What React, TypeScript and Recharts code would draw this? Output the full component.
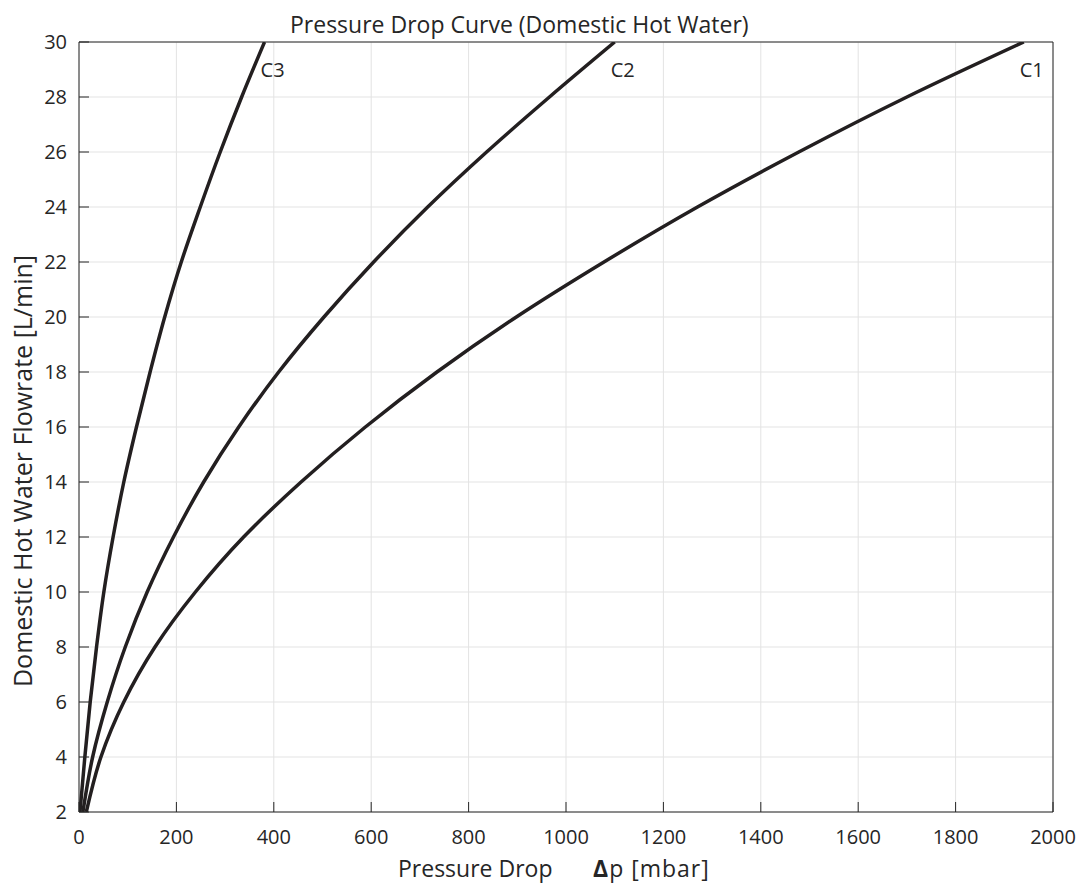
import { CartesianGrid, Line, LineChart, XAxis, YAxis } from "recharts";

// axis ticks
const dropTicks = [0, 200, 400, 600, 800, 1000, 1200, 1400, 1600, 1800, 2000];
const flowTicks = [2, 4, 6, 8, 10, 12, 14, 16, 18, 20, 22, 24, 26, 28, 30];

// flow levels [L/min] shared by all three curves
const flowLevels = [2, 4, 6, 8, 10, 12, 14, 16, 18, 20, 22, 24, 26, 28, 30];

// pressure drop [mbar] at each flow level
const c1Drop = [15, 45, 92, 156, 239, 338, 456, 588, 735, 898, 1078, 1270, 1478, 1700, 1940];
const c2Drop = [8, 28, 58, 95, 140, 194, 256, 328, 410, 503, 605, 716, 837, 966, 1100];
const c3Drop = [2, 12, 23, 36, 51, 70, 92, 118, 146, 176, 210, 249, 290, 334, 381];

const toPoints = (drop: number[]) => drop.map((dp, i) => ({ dp, flow: flowLevels[i] }));

const c1 = toPoints(c1Drop);
const c2 = toPoints(c2Drop);
const c3 = toPoints(c3Drop);

const INK = "#262626";
const CURVE = "#231f20";
const FONT = "'Open Sans', sans-serif";

const tickStyle = { fill: INK, fontSize: 20, fontFamily: FONT };

// name tag just below the upper end of each curve
const endLabel = (name: string, count: number) => (props: any) => {
  if (props.index !== count - 1) return null;
  return (
    <text x={props.x - 4} y={props.y + 35} fill={INK} fontSize={20} fontFamily={FONT} textAnchor="start">
      {name}
    </text>
  );
};

export default function App() {
  return (
    <div style={{ position: "absolute", left: 0, top: 0, width: 1081, height: 888, background: "#fff", fontFamily: FONT, color: INK }}>
      <div style={{ position: "absolute", left: 290, top: 10, fontSize: 23, lineHeight: "28px", whiteSpace: "nowrap" }}>
        Pressure Drop Curve (Domestic Hot Water)
      </div>

      <LineChart width={1081} height={888} margin={{ top: 41, right: 27, bottom: 46, left: 19 }}>
        <CartesianGrid stroke="#e3e3e3" strokeWidth={1} />
        <XAxis
          type="number"
          dataKey="dp"
          domain={[0, 2000]}
          ticks={dropTicks}
          allowDataOverflow
          height={30}
          tick={tickStyle}
          tickSize={-10}
          tickMargin={28}
          axisLine={{ stroke: INK }}
          tickLine={{ stroke: INK }}
        />
        <XAxis
          xAxisId="top"
          orientation="top"
          type="number"
          domain={[0, 2000]}
          ticks={dropTicks}
          height={1}
          tick={false}
          tickSize={-10}
          axisLine={{ stroke: INK }}
          tickLine={{ stroke: INK }}
        />
        <YAxis
          type="number"
          domain={[2, 30]}
          ticks={flowTicks}
          allowDataOverflow
          width={60}
          tick={tickStyle}
          tickSize={-10}
          tickMargin={22}
          axisLine={{ stroke: INK }}
          tickLine={{ stroke: INK }}
        />
        <YAxis
          yAxisId="right"
          orientation="right"
          type="number"
          domain={[2, 30]}
          ticks={flowTicks}
          width={1}
          tick={false}
          tickSize={-10}
          axisLine={{ stroke: INK }}
          tickLine={{ stroke: INK }}
        />
        <Line data={c1} dataKey="flow" type="monotoneY" stroke={CURVE} strokeWidth={3.5} dot={false} activeDot={false} isAnimationActive={false} label={endLabel("C1", c1.length)} />
        <Line data={c2} dataKey="flow" type="monotoneY" stroke={CURVE} strokeWidth={3.5} dot={false} activeDot={false} isAnimationActive={false} label={endLabel("C2", c2.length)} />
        <Line data={c3} dataKey="flow" type="monotoneY" stroke={CURVE} strokeWidth={3.5} dot={false} activeDot={false} isAnimationActive={false} label={endLabel("C3", c3.length)} />
      </LineChart>

      <div
        style={{
          position: "absolute",
          left: 22,
          top: 471,
          transform: "translate(-50%, -50%) rotate(-90deg)",
          fontSize: 25,
          whiteSpace: "nowrap",
        }}
      >
        Domestic Hot Water Flowrate [L/min]
      </div>

      <div style={{ position: "absolute", left: 398, top: 854, fontSize: 23, lineHeight: "28px", whiteSpace: "pre" }}>
        Pressure Drop
        <span style={{ position: "absolute", left: 195, top: 0, whiteSpace: "nowrap", letterSpacing: 1 }}>
          <b>Δ</b>p [mbar]
        </span>
      </div>
    </div>
  );
}
